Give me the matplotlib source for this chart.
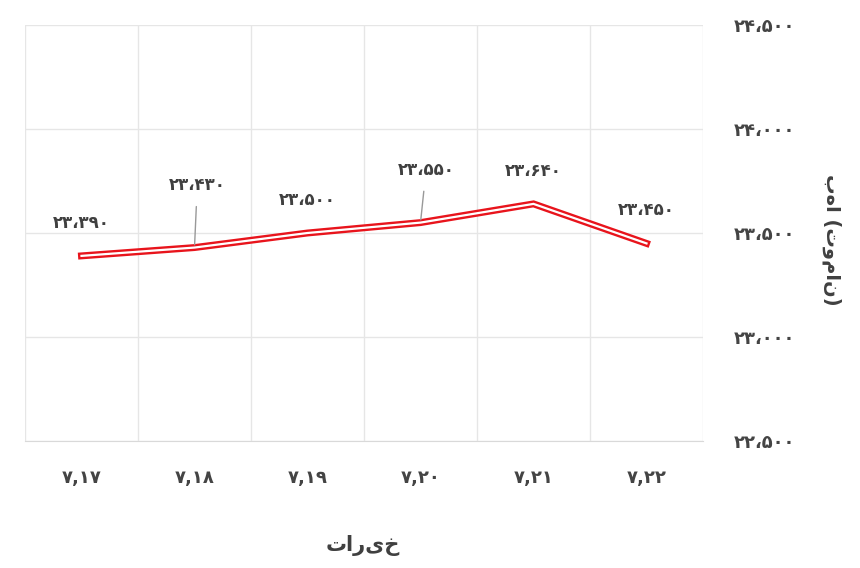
import matplotlib
matplotlib.use("Agg")
import matplotlib.pyplot as plt

categories = ["۷,۱۷", "۷,۱۸", "۷,۱۹", "۷,۲۰", "۷,۲۱", "۷,۲۲"]
values = [23390, 23430, 23500, 23550, 23640, 23450]
value_labels = ["۲۳،۳۹۰", "۲۳،۴۳۰", "۲۳،۵۰۰", "۲۳،۵۵۰", "۲۳،۶۴۰", "۲۳،۴۵۰"]
yticks = [22500, 23000, 23500, 24000, 24500]
ytick_labels = ["۲۲،۵۰۰", "۲۳،۰۰۰", "۲۳،۵۰۰", "۲۴،۰۰۰", "۲۴،۵۰۰"]

plt.rcParams['font.family'] = ['DejaVu Sans']
fig = plt.figure(figsize=(8.6, 5.68), dpi=100)
ax = fig.add_axes([25/860, 1-441/568, 678/860, 416/568])
x = list(range(len(categories)))
ax.plot(x, values, color="#e8141c", lw=5, solid_joinstyle="miter", zorder=3)
ax.plot(x, values, color="white", lw=1.6, solid_joinstyle="miter", zorder=4)
ax.set_xlim(-0.5, 5.5)
ax.set_ylim(22500, 24500)
ax.set_yticks(yticks)
ax.set_yticklabels(ytick_labels, fontweight="bold")
ax.yaxis.tick_right()
ax.set_xticks([i - 0.5 for i in range(7)], minor=False)
ax.set_xticklabels([])
ax.set_xticks(x, minor=True)
ax.set_xticklabels(categories, minor=True, fontweight="bold")
ax.tick_params(axis="x", which="both", length=0, pad=20, labelsize=13, colors="#444444")
ax.tick_params(axis="y", length=0, pad=22, labelsize=13, colors="#444444")
ax.grid(True, which="major", color="#e6e6e6", lw=1)
for s in ax.spines.values():
    s.set_visible(False)
ax.spines["bottom"].set_visible(True)
ax.spines["bottom"].set_color("#d9d9d9")

offsets = [(0, 24), (2, 45), (0, 24), (4, 38), (0, 24), (0, 24)]
for i, (v, lab) in enumerate(zip(values, value_labels)):
    dx, dy = offsets[i]
    ax.annotate(lab, (i, v), xytext=(dx, dy), textcoords="offset points",
                ha="center", va="center", fontsize=12, fontweight="bold", color="#404040",
                arrowprops=dict(arrowstyle="-", color="#999999", lw=1, shrinkA=7, shrinkB=2) if i in (1, 3) else None)

fig.text(363/860, 1-546/568, "تاریخ", ha="center", va="center", fontsize=15, fontweight="bold", color="#404040")
fig.text(832/860, 1-240/568, "بها (تومان)", ha="center", va="center", rotation=270, fontsize=14, fontweight="bold", color="#404040")
fig.savefig("out.png", dpi=100, facecolor="white")
